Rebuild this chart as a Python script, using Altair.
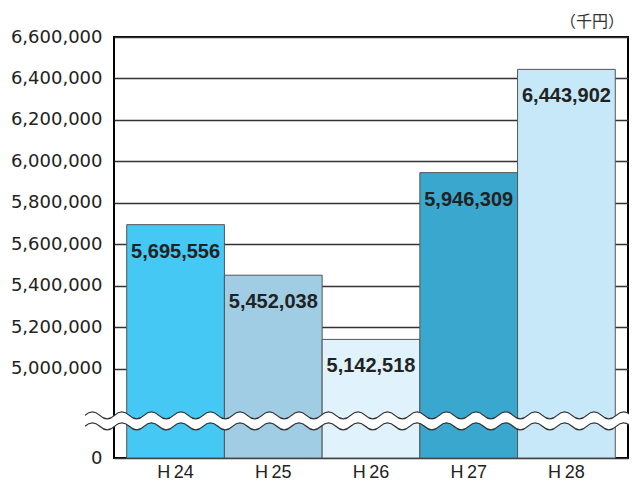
import altair as alt
import pandas as pd

# ---- data ----
years = ["H24", "H25", "H26", "H27", "H28"]
values = [5695556, 5452038, 5142518, 5946309, 6443902]
bar_colors = ["#45C8F3", "#A0CDE4", "#E0F2FC", "#3AA7CF", "#C7E8F8"]
y_tick_values = [5000000, 5200000, 5400000, 5600000, 5800000,
                 6000000, 6200000, 6400000, 6600000]
unit_label = "（千円）"

# broken axis: the value at which "0" is drawn, and where the break sits
AXIS_ZERO = 4571000
BREAK_AT = 4750000
Y_MAX = 6600000

W, H = 514, 421
PAD = {"left": 106, "top": 29, "right": 1, "bottom": 23}

df = pd.DataFrame({
    "year": years,
    "value": values,
    "base": [AXIS_ZERO] * len(years),
    "label": [f"{v:,}" for v in values],
})

x_enc = alt.X("year:N", sort=years,
              scale=alt.Scale(paddingInner=0, paddingOuter=0.13),
              axis=alt.Axis(title=None, ticks=False, domain=False,
                            labelAngle=0, labelFont="Liberation Sans",
                            labelFontSize=18, labelColor="#222", labelPadding=5,
                            labelExpr="replace(datum.value, 'H', 'H\u2009')"))
y_scale = alt.Scale(domain=[AXIS_ZERO, Y_MAX], nice=False, zero=False)

bars = alt.Chart(df).mark_bar(stroke="#555", strokeWidth=1).encode(
    x=x_enc,
    y=alt.Y("value:Q", scale=y_scale,
            axis=alt.Axis(title=None, values=[AXIS_ZERO] + y_tick_values,
                          labelExpr="datum.value < 5000000 ? '0' : format(datum.value, ',')",
                          ticks=False, domain=False, grid=True,
                          gridColor="#333", gridWidth=1.3,
                          labelFont="DejaVu Sans", labelFontSize=18,
                          labelColor="#222", labelPadding=12)),
    y2="base",
    color=alt.Color("year:N", scale=alt.Scale(domain=years, range=bar_colors), legend=None),
)

texts = alt.Chart(df).mark_text(
    baseline="middle", dy=27, fontSize=20, fontWeight="bold",
    font="Liberation Sans", color="#222"
).encode(x=alt.X("year:N", sort=years), y=alt.Y("value:Q", scale=y_scale), text="label:N")

# unit note above the top-right corner of the frame
unit = alt.Chart(pd.DataFrame({"t": [unit_label]})).mark_text(
    align="right", baseline="middle", font="Noto Sans CJK JP", fontSize=16,
    color="#333"
).encode(x=alt.value(W - 4), y=alt.value(-15), text="t:N")

# ---- break decoration (wavy double line) ----
x_left, x_right = -29.0, W + 3.0          # px, relative to plot origin
R = (x_right - x_left) / 2                 # px per path unit
n_half = round((x_right - x_left) / 14.75)
half = 2.0 / n_half                        # half wavelength in path units
amp = 7.0 / R                              # quadratic control offset
gap = 5.5 / R

def wave_pts(yc):
    segs = []
    x = -1.0
    for i in range(n_half):
        sign = -1 if i % 2 == 0 else 1
        segs.append((x + half / 2, yc + sign * amp, x + half, yc))
        x += half
    return segs

def open_path(yc):
    s = f"M-1,{yc:.4f}"
    for cx, cy, ex, ey in wave_pts(yc):
        s += f" Q{cx:.4f},{cy:.4f} {ex:.4f},{ey:.4f}"
    return s

def band_path():
    top = wave_pts(-gap)
    bot = wave_pts(gap)
    s = f"M-1,{-gap:.4f}"
    for cx, cy, ex, ey in top:
        s += f" Q{cx:.4f},{cy:.4f} {ex:.4f},{ey:.4f}"
    s += f" L{bot[-1][2]:.4f},{gap:.4f}"
    prev_x = [-1.0] + [b[2] for b in bot[:-1]]
    for (cx, cy, ex, ey), px in zip(reversed(bot), reversed(prev_x)):
        s += f" Q{cx:.4f},{cy:.4f} {px:.4f},{gap:.4f}"
    return s + " Z"

brk = pd.DataFrame({"v": [BREAK_AT]})
size = (2 * R) ** 2
x_center = alt.value((x_left + x_right) / 2)

band = alt.Chart(brk).mark_point(shape=band_path(), filled=True, size=size,
                                 color="white", opacity=1, strokeWidth=0).encode(
    x=x_center, y=alt.Y("v:Q", scale=y_scale))
line_top = alt.Chart(brk).mark_point(shape=open_path(-gap), filled=False, size=size,
                                     color="#333", strokeWidth=1.3, opacity=1).encode(
    x=x_center, y=alt.Y("v:Q", scale=y_scale))
line_bot = alt.Chart(brk).mark_point(shape=open_path(gap), filled=False, size=size,
                                     color="#333", strokeWidth=1.3, opacity=1).encode(
    x=x_center, y=alt.Y("v:Q", scale=y_scale))

chart = alt.layer(bars, texts, band, line_top, line_bot, unit).properties(
    width=W, height=H,
    autosize=alt.AutoSizeParams(type="none"),
    padding=PAD,
).configure_view(stroke="black", strokeWidth=2)

chart.save("out.html", embed_options={"renderer": "svg", "actions": False})
